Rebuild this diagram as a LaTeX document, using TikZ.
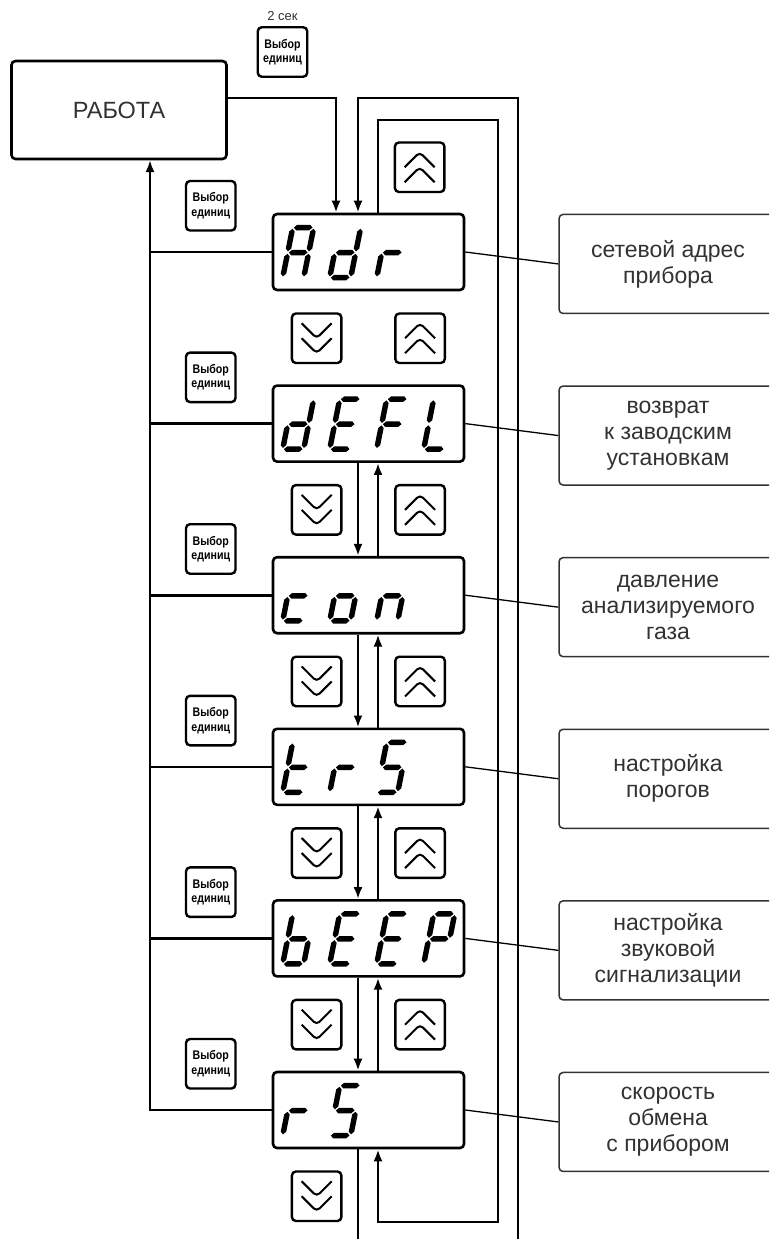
\documentclass[tikz,border=0pt]{standalone}
\usepackage{fontspec}
\setmainfont{Liberation Sans}
\newfontfamily\keyfont[FakeStretch=0.85]{Liberation Sans}
\usepackage{tikz}
\usetikzlibrary{arrows.meta,positioning}
\definecolor{notegray}{RGB}{50,50,50}

% seven-segment glyphs (local frame: origin bottom left, y up)
\newcommand{\hseg}[2]{\fill (#1,#2) -- ++(2.75,2.75) -- ++(13.1,0) -- ++(2.75,-2.75) -- ++(-2.75,-2.75) -- ++(-13.1,0) -- cycle;}
\newcommand{\vseg}[2]{\fill (#1,#2) -- ++(2.75,2.75) -- ++(0,17.1) -- ++(-2.75,2.75) -- ++(-2.75,-2.75) -- ++(0,-17.1) -- cycle;}
\def\sega{\hseg{1.2}{50}}
\def\segb{\vseg{21}{26.2}}
\def\segc{\vseg{21}{1.2}}
\def\segd{\hseg{1.2}{0}}
\def\sege{\vseg{0}{1.2}}
\def\segf{\vseg{0}{26.2}}
\def\segg{\hseg{1.2}{25}}
\def\ledA{a,b,c,e,f,g}
\def\ledd{b,c,d,e,g}
\def\ledr{e,g}
\def\ledE{a,d,e,f,g}
\def\ledF{a,e,f,g}
\def\ledL{d,e,f}
\def\ledc{d,e,g}
\def\ledo{c,d,e,g}
\def\ledn{c,e,g}
\def\ledt{d,e,f,g}
\def\ledS{a,c,d,f,g}
\def\ledb{c,d,e,f,g}
\def\ledP{a,b,e,f,g}
\newcommand{\ledsegs}[1]{\foreach \sg in #1 {\csname seg\sg\endcsname}}
\newcommand{\ledword}[2]{%
  \foreach \ch [count=\i from 0] in {#2} {%
    \begin{scope}[shift={(#1.south west)}, x=1pt, y=1pt, shift={(11+47*\i,13.75)}, xslant=0.2]
      \expandafter\ledsegs\csname led\ch\endcsname
    \end{scope}}}

\begin{document}
\begin{tikzpicture}[x=1pt, y=-1pt,
  lcd/.style={draw, rounded corners=4pt, line width=2.6pt, minimum width=191pt, minimum height=76pt},
  note/.style={draw=notegray, text=notegray, rounded corners=4pt, line width=1.5pt, minimum width=218pt, minimum height=99pt, align=center, font=\fontsize{23}{26}\selectfont},
  key/.style={draw, rounded corners=4pt, line width=2.4pt, minimum size=49.5pt, inner sep=0pt},
  selkey/.style={key, align=center, font=\keyfont\bfseries\fontsize{12.5}{14.5}\selectfont},
  downkey/.style={key, path picture={
    \draw[line width=2pt] ([shift={(-15pt,15pt)}]path picture bounding box.center) -- ++(15pt,-15pt) -- ++(15pt,15pt)
      ([shift={(-15pt,0pt)}]path picture bounding box.center) -- ++(15pt,-15pt) -- ++(15pt,15pt);}},
  upkey/.style={key, path picture={
    \draw[line width=2pt] ([shift={(-15pt,-15pt)}]path picture bounding box.center) -- ++(15pt,15pt) -- ++(15pt,-15pt)
      ([shift={(-15pt,0pt)}]path picture bounding box.center) -- ++(15pt,15pt) -- ++(15pt,-15pt);}},
  arrow/.style={-{Latex[length=12pt,width=9pt]}, line width=2.6pt},
  link/.style={line width=2.6pt},
  leader/.style={line width=1.3pt}
]
\useasboundingbox (0,0) rectangle (769,1239);
\clip (0,0) rectangle (769,1239);

\node[draw, rounded corners=4pt, line width=2.6pt, minimum width=215pt, minimum height=98pt, text=notegray, font=\fontsize{23.5}{26}\selectfont] (rabota) at (119,110) {РАБОТА};
\node[selkey] (seltop) at (282.5,52) {Выбор\\единиц};
\node[above=1.5pt of seltop, text=notegray, font=\fontsize{13}{15}\selectfont] (twosec) {2 сек};

% displays
\node[lcd] (adr) at (368.5,252) {};
\node[lcd, below=93pt of adr] (defl) {};
\node[lcd, below=93pt of defl] (con) {};
\node[lcd, below=93pt of con] (trs) {};
\node[lcd, below=93pt of trs] (beep) {};
\node[lcd, below=93pt of beep] (rs) {};

\ledword{adr}{A,d,r}
\ledword{defl}{d,E,F,L}
\ledword{con}{c,o,n}
\ledword{trs}{t,r,S}
\ledword{beep}{b,E,E,P}
\ledword{rs}{r,S}

% notes
\node[note, below right=1pt and 93pt of adr.north east] (adrnote) {сетевой адрес\\прибора};
\node[note, below right=1pt and 93pt of defl.north east] (deflnote) {возврат\\к заводским\\установкам};
\node[note, below right=1pt and 93pt of con.north east] (connote) {давление\\анализируемого\\газа};
\node[note, below right=1pt and 93pt of trs.north east] (trsnote) {настройка\\порогов};
\node[note, below right=1pt and 93pt of beep.north east] (beepnote) {настройка\\звуковой\\сигнализации};
\node[note, below right=1pt and 93pt of rs.north east] (rsnote) {скорость\\обмена\\с прибором};

% keys
\node[upkey, above right=19.5pt and 122pt of adr.north west] (uptop) {};
\node[selkey, above left=-19pt and 35pt of adr.north west] (seladr) {Выбор\\единиц};
\node[selkey, above left=-19pt and 35pt of defl.north west] (seldefl) {Выбор\\единиц};
\node[selkey, above left=-19pt and 35pt of con.north west] (selcon) {Выбор\\единиц};
\node[selkey, above left=-19pt and 35pt of trs.north west] (seltrs) {Выбор\\единиц};
\node[selkey, above left=-19pt and 35pt of beep.north west] (selbeep) {Выбор\\единиц};
\node[selkey, above left=-19pt and 35pt of rs.north west] (selrs) {Выбор\\единиц};
\node[downkey, below right=21pt and 19pt of adr.south west] (dnadr) {};
\node[upkey, right=51.5pt of dnadr] (upadr) {};
\node[downkey, below right=21pt and 19pt of defl.south west] (dndefl) {};
\node[upkey, right=51.5pt of dndefl] (updefl) {};
\node[downkey, below right=21pt and 19pt of con.south west] (dncon) {};
\node[upkey, right=51.5pt of dncon] (upcon) {};
\node[downkey, below right=21pt and 19pt of trs.south west] (dntrs) {};
\node[upkey, right=51.5pt of dntrs] (uptrs) {};
\node[downkey, below right=21pt and 19pt of beep.south west] (dnbeep) {};
\node[upkey, right=51.5pt of dnbeep] (upbeep) {};
\node[downkey, below right=21pt and 19pt of rs.south west] (dnrs) {};

\coordinate (bus) at (150,160);
\coordinate (outtop) at (518,98);
\coordinate (outend) at (518,1245);
\coordinate (intop) at (498,120);
\coordinate (inbot) at (498,1222);

\draw[arrow] ([yshift=12pt]rabota.east) -| ([xshift=-32.5pt]adr.north);
\draw[arrow] (outend) -- (outtop) -| ([xshift=-10.5pt]adr.north);
\draw[arrow] ([xshift=9.5pt]adr.north) |- (intop) -- (inbot) -| ([xshift=9.5pt]rs.south);
\draw[link] ([xshift=-10.5pt]rs.south) -- ([xshift=-10.5pt]rs.south |- outend);

\draw[arrow] ([xshift=-10.5pt]defl.south) -- ([xshift=-10.5pt]con.north);
\draw[arrow] ([xshift=9.5pt]con.north) -- ([xshift=9.5pt]defl.south);
\draw[arrow] ([xshift=-10.5pt]con.south) -- ([xshift=-10.5pt]trs.north);
\draw[arrow] ([xshift=9.5pt]trs.north) -- ([xshift=9.5pt]con.south);
\draw[arrow] ([xshift=-10.5pt]trs.south) -- ([xshift=-10.5pt]beep.north);
\draw[arrow] ([xshift=9.5pt]beep.north) -- ([xshift=9.5pt]trs.south);
\draw[arrow] ([xshift=-10.5pt]beep.south) -- ([xshift=-10.5pt]rs.north);
\draw[arrow] ([xshift=9.5pt]rs.north) -- ([xshift=9.5pt]beep.south);

\draw[arrow] (rs.west) -| (bus);
\draw[link] (adr.west) -- (adr.west -| bus);
\draw[link] (defl.west) -- (defl.west -| bus);
\draw[link] (con.west) -- (con.west -| bus);
\draw[link] (trs.west) -- (trs.west -| bus);
\draw[link] (beep.west) -- (beep.west -| bus);

\draw[leader] (adr.east) -- (adrnote.west);
\draw[leader] (defl.east) -- (deflnote.west);
\draw[leader] (con.east) -- (connote.west);
\draw[leader] (trs.east) -- (trsnote.west);
\draw[leader] (beep.east) -- (beepnote.west);
\draw[leader] (rs.east) -- (rsnote.west);
\end{tikzpicture}
\end{document}
